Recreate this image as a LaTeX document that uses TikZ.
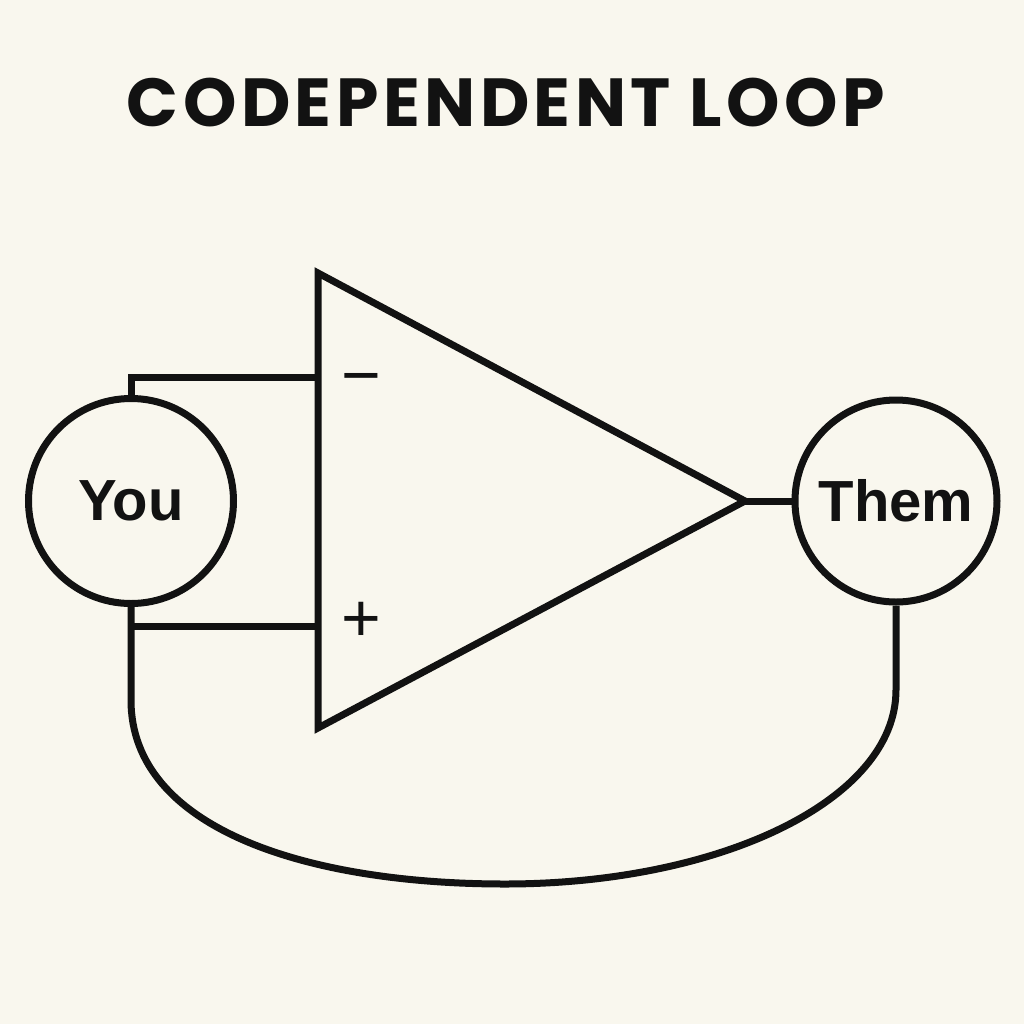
\documentclass[tikz,border=0pt]{standalone}
\usepackage{fontspec}
\setmainfont{Liberation Sans}
\newfontfamily\titlefont[LetterSpace=6.6]{Poppins}
\definecolor{bgc}{HTML}{F9F7EE}
\definecolor{ink}{HTML}{121212}
\begin{document}
\begin{tikzpicture}[x=0.5pt,y=-0.5pt,
  wire/.style={draw=ink,line width=3.5pt},
  person/.style={circle,draw=ink,line width=3.5pt,inner sep=0pt,font=\fontsize{29}{29}\selectfont\bfseries,text=ink},
  sign/.style={inner sep=0pt,font=\fontsize{34}{34}\selectfont,text=ink}]
\fill[bgc] (0,0) rectangle (1024,1024);
\useasboundingbox (0,0) rectangle (1024,1024);
\node[text=ink,font=\titlefont\fontsize{34}{34}\selectfont\bfseries] (title) at (506,103) {CODEPENDENT LOOP};
\node[person,minimum size=102.5pt] (you) at (131,501) {You};
\node[person,minimum size=101pt] (them) at (896,501) {Them};
\coordinate (ta) at (318,273);
\coordinate (tb) at (318,728);
\coordinate (tip) at (745,501);
\draw[wire,line join=miter] (ta) -- (tip) -- (tb) -- cycle;
\coordinate (inm) at (318,377);
\coordinate (inp) at (318,626);
\coordinate (cm) at (131,377);
\coordinate (bot) at (505,884);
\draw[wire] (you.north) -- (cm) -- (inm);
\draw[wire] (you.south |- inp) -- (inp);
\draw[wire] (tip) -- (them.west);
\draw[wire] (you.south) -- (131,700) .. controls (131,830) and (310,884) .. (bot)
  .. controls (720,884) and (896,800) .. (896,690) -- (them.south);
\node[sign] (minus) at (361,386) {−};
\node[sign] (plus) at (361,622) {+};
\end{tikzpicture}
\end{document}
